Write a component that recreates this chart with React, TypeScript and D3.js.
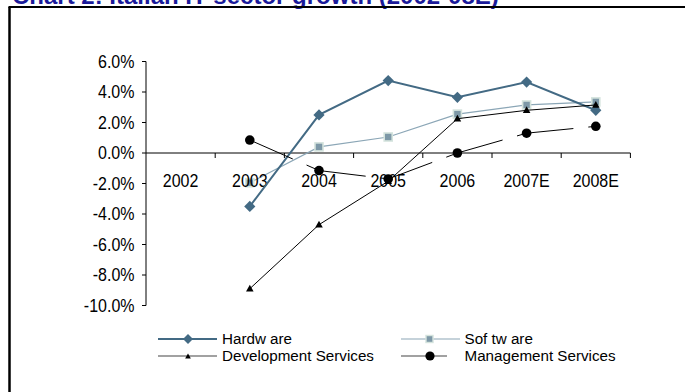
import React from "react";
import * as d3 from "d3";

const categories = ["2002", "2003", "2004", "2005", "2006", "2007E", "2008E"];
const hardware: (number | null)[] = [null, -3.5, 2.5, 4.75, 3.65, 4.65, 2.8];
const software: (number | null)[] = [null, -1.95, 0.4, 1.05, 2.55, 3.15, 3.35];
const devServices: (number | null)[] = [null, -8.9, -4.7, -1.85, 2.25, 2.8, 3.15];
const mgmtServices: (number | null)[] = [null, 0.85, -1.15, -1.7, 0.0, 1.3, 1.75];
const yTicks = [6, 4, 2, 0, -2, -4, -6, -8, -10];
const title = "Chart 2: Italian IT sector growth (2002-08E)";
const legendNames = ["Hardw are", "Sof tw are", "Development Services", "Management Services"];

const HW = "#436a84";
const SW_LINE = "#8ba6b6";
const SW_FILL = "#7d98a7";
const SW_EDGE = "#d4e3dd";
const FONT = "Liberation Sans, Arial, sans-serif";

export default function App() {
  const x = d3.scaleBand<string>().domain(categories).range([146, 630.4]).padding(0);
  const y = d3.scaleLinear().domain([-10, 6]).range([305.5, 61.5]);
  const cx = (i: number) => (x(categories[i]) as number) + x.bandwidth() / 2;

  const pts = (arr: (number | null)[]) =>
    arr.map((v, i) => (v === null ? null : [cx(i), y(v)] as [number, number])).filter(Boolean) as [number, number][];

  const line = d3.line<[number, number]>();
  const hwPts = pts(hardware);
  const swPts = pts(software);
  const dvPts = pts(devServices);
  const mgPts = pts(mgmtServices);

  const diamond = (px: number, py: number, r: number) =>
    `M${px},${py - r}L${px + r},${py}L${px},${py + r}L${px - r},${py}Z`;
  const tri = (px: number, py: number, r: number) =>
    `M${px},${py - r}L${px + r * 0.95},${py + r * 0.7}L${px - r * 0.95},${py + r * 0.7}Z`;

  const txt = (s: string, tx: number, ty: number, size: number, anchor: string, key?: string, sy = 1.15) => (
    <text
      key={key}
      transform={`translate(${tx},${ty}) scale(1,${sy})`}
      fontFamily={FONT}
      fontSize={size}
      textAnchor={anchor}
      fill="#000"
    >
      {s}
    </text>
  );

  const y0 = y(0);

  return (
    <svg width={685} height={392} style={{ position: "absolute", left: 0, top: 0 }}>
      <rect x={0} y={0} width={685} height={392} fill="#fff" />
      <text x={12} y={4} fontFamily={FONT} fontWeight="bold" fontSize={24} fill="#1a1a9a">
        {title}
      </text>
      {/* frame */}
      <line x1={9.5} y1={7} x2={9.5} y2={392} stroke="#000" strokeWidth={2.5} />
      <line x1={8.5} y1={7} x2={685} y2={7} stroke="#000" strokeWidth={2} />

      {/* y axis */}
      <line x1={146} y1={y(6)} x2={146} y2={y(-10)} stroke="#000" strokeWidth={1} />
      {yTicks.map((t) => (
        <g key={t}>
          <line x1={142} x2={146} y1={y(t)} y2={y(t)} stroke="#000" />
          {txt(`${t.toFixed(1)}%`, 134.5, y(t) + 6.4, 16, "end")}
        </g>
      ))}
      {/* x axis */}
      <line x1={146} y1={y0} x2={630.4} y2={y0} stroke="#000" strokeWidth={1} />
      {categories.map((c) => (
        <line key={c} x1={(x(c) as number) + x.bandwidth()} x2={(x(c) as number) + x.bandwidth()} y1={y0} y2={y0 + 5} stroke="#000" />
      ))}

      {/* Software (behind category labels) */}
      <path d={line(swPts) as string} fill="none" stroke={SW_LINE} strokeWidth={1.2} />
      {swPts.map(([px, py], i) => (
        <rect key={"sw" + i} x={px - 4} y={py - 4} width={8} height={8} fill={SW_FILL} stroke={SW_EDGE} strokeWidth={1.6} />
      ))}

      {categories.map((c, i) => txt(c, cx(i), 186.8, 16, "middle", "xl" + c))}

      {/* Hardware */}
      <path d={line(hwPts) as string} fill="none" stroke={HW} strokeWidth={2} />
      {hwPts.map(([px, py], i) => (
        <path key={"hw" + i} d={diamond(px, py, 5.6)} fill={HW} />
      ))}
      {/* Development services */}
      <path d={line(dvPts) as string} fill="none" stroke="#000" strokeWidth={1} />
      {dvPts.map(([px, py], i) => (
        <path key={"dv" + i} d={tri(px, py, 4)} fill="#000" />
      ))}
      {/* Management services: long-dash segments */}
      {mgPts.slice(1).map((p, i) => (
        <line
          key={"mgl" + i}
          x1={mgPts[i][0]}
          y1={mgPts[i][1]}
          x2={p[0]}
          y2={p[1]}
          stroke="#000"
          strokeWidth={1}
          strokeDasharray="47,15"
        />
      ))}
      {mgPts.map(([px, py], i) => (
        <circle key={"mg" + i} cx={px} cy={py} r={4.8} fill="#000" />
      ))}

      {/* legend */}
      <g>
        <line x1={158} x2={217} y1={339} y2={339} stroke={HW} strokeWidth={2} />
        <path d={diamond(188, 339, 5)} fill={HW} />
        {txt(legendNames[0], 222, 343.6, 15.2, "start", "l0", 1.0)}

        <line x1={401} x2={460} y1={339} y2={339} stroke={SW_LINE} strokeWidth={1.2} />
        <rect x={426} y={335.5} width={7} height={7} fill={SW_FILL} stroke={SW_EDGE} strokeWidth={1.4} />
        {txt(legendNames[1], 464.5, 343.6, 15.2, "start", "l1", 1.0)}

        <line x1={158} x2={217} y1={356} y2={356} stroke="#444" strokeWidth={1.2} />
        <path d={tri(188, 356.5, 3)} fill="#000" />
        {txt(legendNames[2], 222, 360.6, 15.2, "start", "l2", 1.0)}

        <line x1={401} x2={447} y1={356} y2={356} stroke="#444" strokeWidth={1.2} />
        <circle cx={430} cy={356} r={4.6} fill="#000" />
        {txt(legendNames[3], 464.5, 360.6, 15.2, "start", "l3", 1.0)}
      </g>
    </svg>
  );
}
